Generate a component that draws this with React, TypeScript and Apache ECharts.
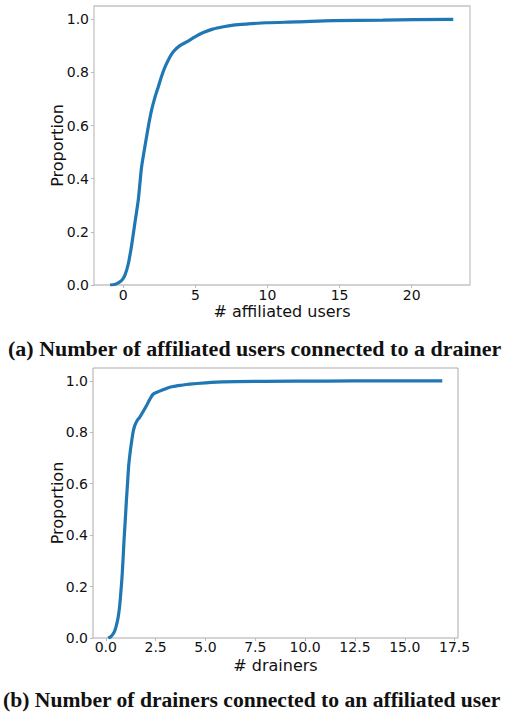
import React, { useEffect, useRef } from "react";
import * as echarts from "echarts";

// Chart (a): CDF of # affiliated users per drainer
const usersX = [-0.92, -0.6, -0.35, -0.1, 0.1, 0.35, 0.55, 0.69, 0.85, 1.04, 1.15, 1.27, 1.45, 1.62, 1.8, 1.97, 2.2, 2.43, 2.65, 2.89, 3.15, 3.47, 3.9, 4.4, 5.0, 5.55, 6.2, 6.94, 7.63, 8.5, 9.94, 12.0, 14.56, 18.0, 22.88];
const usersY = [0.0, 0.002, 0.008, 0.018, 0.035, 0.08, 0.14, 0.19, 0.25, 0.32, 0.38, 0.445, 0.505, 0.56, 0.615, 0.66, 0.707, 0.746, 0.785, 0.82, 0.85, 0.878, 0.9, 0.915, 0.935, 0.95, 0.963, 0.972, 0.978, 0.982, 0.987, 0.99, 0.995, 0.997, 1.0];

// Chart (b): CDF of # drainers per affiliated user
const drainersX = [0.12, 0.25, 0.37, 0.45, 0.53, 0.62, 0.7, 0.76, 0.82, 0.87, 0.92, 0.98, 1.04, 1.1, 1.15, 1.22, 1.29, 1.37, 1.45, 1.57, 1.7, 1.87, 2.04, 2.2, 2.37, 2.6, 2.87, 3.1, 3.37, 3.8, 4.21, 5.0, 5.88, 8.0, 11.0, 14.0, 16.88];
const drainersY = [0.0, 0.005, 0.016, 0.028, 0.048, 0.08, 0.126, 0.18, 0.242, 0.31, 0.385, 0.46, 0.54, 0.61, 0.67, 0.72, 0.76, 0.8, 0.825, 0.845, 0.858, 0.88, 0.903, 0.927, 0.948, 0.957, 0.965, 0.972, 0.978, 0.983, 0.987, 0.992, 0.996, 0.998, 0.999, 1.0, 1.0];

const usersTicks = [0, 5, 10, 15, 20];
const drainersTicks = [0, 2.5, 5, 7.5, 10, 12.5, 15, 17.5];
const yTicks = [0, 0.2, 0.4, 0.6, 0.8, 1.0];

const captionA = "(a) Number of affiliated users connected to a drainer";
const captionB = "(b) Number of drainers connected to an affiliated user";

const FONT = "DejaVu Sans";
const TEXT = "#111";

function xAxisCfg(gridIndex: number, min: number, max: number, ticks: number[], name: string, fmt: (v: number) => string, gap: number, margin: number) {
  return {
    type: "value",
    gridIndex,
    min,
    max,
    name,
    nameLocation: "middle",
    nameGap: gap,
    nameMoveOverlap: false,
    nameTextStyle: { fontFamily: FONT, fontSize: 16, color: TEXT },
    axisLine: { show: false, onZero: false },
    splitLine: { show: false },
    axisTick: { show: true, customValues: ticks, length: 3, lineStyle: { color: "#bbb" } },
    axisLabel: { customValues: ticks, formatter: fmt, fontFamily: FONT, fontSize: 14, color: TEXT, margin },
  };
}

function yAxisCfg(gridIndex: number, gap: number) {
  return {
    type: "value",
    gridIndex,
    min: 0,
    max: 1.05,
    name: "Proportion",
    nameLocation: "middle",
    nameGap: gap,
    nameMoveOverlap: false,
    nameTextStyle: { fontFamily: FONT, fontSize: 16, color: TEXT },
    axisLine: { show: false, onZero: false },
    splitLine: { show: false },
    axisTick: { show: true, customValues: yTicks, length: 3, lineStyle: { color: "#bbb" } },
    axisLabel: { customValues: yTicks, formatter: (v: number) => v.toFixed(1), fontFamily: FONT, fontSize: 14, color: TEXT, margin: 5 },
  };
}

export default function App() {
  const ref = useRef<HTMLDivElement>(null);
  useEffect(() => {
    if (!ref.current) return;
    const chart = echarts.init(ref.current, null, { renderer: "svg" });
    chart.setOption({
      animation: false,
      backgroundColor: "#fff",
      grid: [
        { left: 94, top: 6, width: 376, height: 279, show: true, borderColor: "#c4c4c4", borderWidth: 1.3, backgroundColor: "transparent" },
        { left: 93, top: 368, width: 365, height: 270, show: true, borderColor: "#aaaaaa", borderWidth: 1, backgroundColor: "transparent" },
      ],
      xAxis: [
        xAxisCfg(0, -2.03, 24.04, usersTicks, "# affiliated users", (v: number) => String(v), 18, 3),
        xAxisCfg(1, -0.64, 17.67, drainersTicks, "# drainers", (v: number) => v.toFixed(1), 19, 2),
      ],
      yAxis: [yAxisCfg(0, 29), yAxisCfg(1, 28)],
      series: [
        {
          type: "line",
          xAxisIndex: 0,
          yAxisIndex: 0,
          data: usersX.map((x, i) => [x, usersY[i]]),
          showSymbol: false,
          smooth: 0.25,
          lineStyle: { color: "#1f77b4", width: 3.2 },
        },
        {
          type: "line",
          xAxisIndex: 1,
          yAxisIndex: 1,
          data: drainersX.map((x, i) => [x, drainersY[i]]),
          showSymbol: false,
          smooth: 0.25,
          lineStyle: { color: "#1f77b4", width: 3.2 },
        },
      ],
      graphic: [
        {
          type: "text",
          left: 8,
          top: 337,
          style: { text: captionA, fontFamily: "Liberation Serif", fontWeight: "bold", fontSize: 22, fill: "#111" },
        },
        {
          type: "text",
          left: 3,
          top: 689,
          style: { text: captionB, fontFamily: "Liberation Serif", fontWeight: "bold", fontSize: 21.6, fill: "#111" },
        },
      ],
    });
    return () => chart.dispose();
  }, []);
  return <div ref={ref} style={{ position: "absolute", left: 0, top: 0, width: 511, height: 715 }} />;
}
